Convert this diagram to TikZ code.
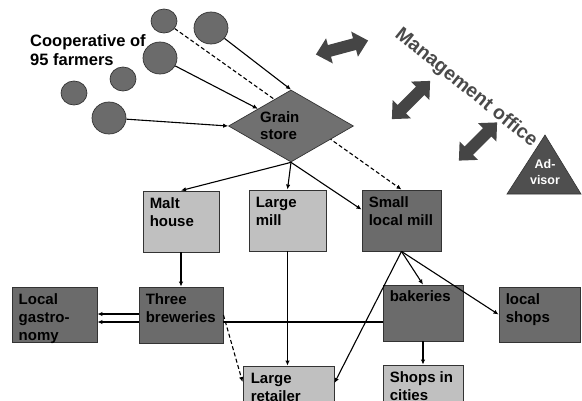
\documentclass[tikz,border=0pt]{standalone}
\usepackage{fontspec}
\setmainfont{Liberation Sans}
\usetikzlibrary{shapes.geometric,arrows.meta}
\definecolor{darkfill}{HTML}{6B6B6B}
\definecolor{lightfill}{HTML}{C0C0C0}
\definecolor{circfill}{HTML}{6B6B6B}
\definecolor{diafill}{HTML}{707070}
\definecolor{boxline}{HTML}{333333}
\definecolor{arrowfill}{HTML}{454545}
\definecolor{advfill}{HTML}{4F4F4F}
\definecolor{mgmt}{HTML}{4A4A4A}
\tikzset{
 box/.style={rectangle, draw=boxline, line width=0.9pt, inner sep=0pt},
 lightbox/.style={box, fill=lightfill},
 darkbox/.style={box, fill=darkfill},
 farmer/.style={ellipse, draw=boxline, line width=0.7pt, fill=circfill, inner sep=0pt},
 lbl/.style={font=\bfseries\fontsize{15}{18}\selectfont, align=left, inner sep=0pt, anchor=north west, text=black},
 conn/.style={line width=1.1pt, -{Latex[length=5pt,width=4.5pt]}},
 dconn/.style={conn, dash pattern=on 4pt off 2.5pt},
 plainconn/.style={line width=1.1pt},
 dblarrow/.style={fill=arrowfill, draw=none},
}
\begin{document}
\begin{tikzpicture}[x=1pt,y=-1pt]
\useasboundingbox (0,0) rectangle (582,400);
\clip (0,0) rectangle (582,400);
\fill[white] (0,0) rectangle (582,400);

% farmers
\node[farmer, minimum width=26, minimum height=24] (c1) at (164,21) {};
\node[farmer, minimum width=34, minimum height=32] (c2) at (211,28) {};
\node[farmer, minimum width=34, minimum height=32] (c3) at (160,58) {};
\node[farmer, minimum width=26, minimum height=24] (c4) at (123,79) {};
\node[farmer, minimum width=26, minimum height=24] (c5) at (74,93) {};
\node[farmer, minimum width=34, minimum height=32] (c6) at (109,118) {};
\node[font=\bfseries\fontsize{16.5}{19}\selectfont, align=left, inner sep=0pt, anchor=north west] (coop) at (30,34) {Cooperative of\\95 farmers};

% boxes
\node[lightbox, minimum width=76, minimum height=61] (malt) at (181,221.5) {};
\node[lightbox, minimum width=77, minimum height=61] (lmill) at (287.5,220.5) {};
\node[darkbox, minimum width=79, minimum height=61] (smill) at (401.5,220.5) {};
\node[darkbox, minimum width=85, minimum height=55] (gastro) at (54.5,314.5) {};
\node[darkbox, minimum width=84, minimum height=56] (brew) at (181,315) {};
\node[lightbox, minimum width=91, minimum height=60] (retail) at (288.5,396) {};
\node[darkbox, minimum width=80, minimum height=56] (bak) at (423,313) {};
\node[darkbox, minimum width=81, minimum height=55] (lshops) at (539.5,314.5) {};
\node[lightbox, minimum width=80, minimum height=60] (scities) at (423,395) {};

% dashed line behind grain store
\draw[dconn] (c1) -- (smill.north);

% grain store
\node[diamond, draw=boxline, line width=0.7pt, fill=diafill, minimum width=125, minimum height=72, inner sep=0pt] (gs) at (291,126) {};
\node[lbl, font=\bfseries\fontsize{15}{17}\selectfont] (gsT) at (260,111) {Grain\\store};

% box labels
\node[lbl] (maltT) at ([shift={(7,7.2)}]malt.north west) {Malt\\house};
\node[lbl] (lmillT) at ([shift={(7,7.2)}]lmill.north west) {Large\\mill};
\node[lbl] (smillT) at ([shift={(7,7.2)}]smill.north west) {Small\\local mill};
\node[lbl] (gastroT) at ([shift={(7,7.2)}]gastro.north west) {Local\\gastro-\\nomy};
\node[lbl] (brewT) at ([shift={(7,7.2)}]brew.north west) {Three\\breweries};
\node[lbl] (retailT) at ([shift={(8,7.2)}]retail.north west) {Large\\retailer};
\node[lbl] (bakT) at ([shift={(7,6.2)}]bak.north west) {bakeries};
\node[lbl] (lshopsT) at ([shift={(7,7.2)}]lshops.north west) {local\\shops};
\node[lbl] (scitiesT) at ([shift={(7,7.2)}]scities.north west) {Shops in\\cities};

% farmer connectors
\draw[conn] (c2) -- (gs.north);
\draw[conn] (c3) -- (gs);
\draw[conn] (c6) -- (gs.west);

% grain store outputs
\draw[conn] (gs.south) -- (malt.north);
\draw[conn] (gs.south) -- (lmill.north);
\draw[conn] (gs.south) -- ([yshift=-20pt]smill.north west);

\draw[conn] (malt.south) -- (brew.north);
\draw[conn] (lmill.south) -- (lmill.south |- retail.north);
\coordinate (bw1) at ([yshift=1pt]brew.west);
\coordinate (bw2) at ([yshift=-7pt]brew.west);
\draw[conn] (bw1) -- (bw1 -| gastro.east);
\draw[conn] (bw2) -- (bw2 -| gastro.east);
\coordinate (be) at ([yshift=-7pt]brew.east);
\draw[plainconn] (be) -- (be -| bak.west);
\draw[dconn] (brew.east) -- ([yshift=14pt]retail.west);

\draw[conn] (smill.south) -- (bak.north);
\draw[conn] (smill.south) -- (lshops.west);
\draw[conn] (smill.south) -- ([yshift=13pt]retail.east);
\draw[conn] (bak.south) -- (scities.north);

% management office
\node[font=\bfseries\fontsize{19.5}{22}\selectfont, text=mgmt, rotate=-39, inner sep=0pt] (mgmt) at (466,88) {Management office};
\path[dblarrow, shift={(342,47.5)}, rotate=15] (-27,0) -- (-13,13) -- (-13,6) -- (13,6) -- (13,13) -- (27,0) -- (13,-13) -- (13,-6) -- (-13,-6) -- (-13,-13) -- cycle;
\path[dblarrow, shift={(411,100)}, rotate=45] (-27,0) -- (-13,13) -- (-13,6) -- (13,6) -- (13,13) -- (27,0) -- (13,-13) -- (13,-6) -- (-13,-6) -- (-13,-13) -- cycle;
\path[dblarrow, shift={(478,141.5)}, rotate=45] (-27,0) -- (-13,13) -- (-13,6) -- (13,6) -- (13,13) -- (27,0) -- (13,-13) -- (13,-6) -- (-13,-6) -- (-13,-13) -- cycle;

% advisor
\filldraw[fill=advfill, draw=boxline, line width=0.6pt] (545,135) -- (581,194) -- (507,194) -- cycle;
\node[font=\bfseries\fontsize{12.5}{16}\selectfont, text=white, align=center, inner sep=0pt, anchor=north] (adv) at (545,159) {Ad-\\visor};
\end{tikzpicture}
\end{document}
